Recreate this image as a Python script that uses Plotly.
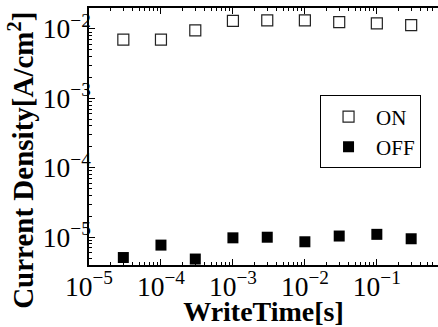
import plotly.graph_objects as go

write_time = [3e-5, 1e-4, 3e-4, 1e-3, 3e-3, 1e-2, 3e-2, 1e-1, 3e-1]
on_density = [7.0e-3, 7.0e-3, 9.5e-3, 1.30e-2, 1.32e-2, 1.32e-2, 1.25e-2, 1.2e-2, 1.13e-2]
off_density = [5.1e-6, 7.7e-6, 4.85e-6, 9.8e-6, 1.0e-5, 8.6e-6, 1.04e-5, 1.1e-5, 9.5e-6]

font_family = "Times New Roman"

fig = go.Figure()
fig.add_trace(go.Scatter(
    x=write_time, y=on_density, mode="markers", name="ON",
    marker=dict(symbol="square-open", size=11, color="#222222", line=dict(width=1.2, color="#222222")),
))
fig.add_trace(go.Scatter(
    x=write_time, y=off_density, mode="markers", name="OFF",
    marker=dict(symbol="square", size=11, color="black", line=dict(width=0)),
))

axis_common = dict(
    type="log", showgrid=False, zeroline=False,
    showline=True, linecolor="black", linewidth=1.5,
    ticks="inside", ticklen=6, tickwidth=1.2, tickcolor="black",
    dtick=1, exponentformat="power",
    minor=dict(ticks="inside", ticklen=3, tickwidth=1, tickcolor="black", showgrid=False),
    tickfont=dict(family=font_family, size=22, color="black"),
)

fig.update_xaxes(
    **axis_common, range=[-5, -0.15], mirror="ticks", ticklabelstandoff=-3,
    title=dict(text="<b>WriteTime[s]</b>", font=dict(family=font_family, size=28, color="black"), standoff=0),
)
fig.update_yaxes(
    **axis_common, range=[-5.4, -1.7], mirror=False, ticklabelstandoff=-8,
)

fig.add_annotation(
    text="<b>Current Density[A/cm<sup>2</sup>]</b>", textangle=-90,
    xref="paper", yref="paper", x=-0.195, y=0.409, xanchor="center", yanchor="middle",
    showarrow=False, font=dict(family=font_family, size=29, color="black"),
)

fig.update_layout(
    width=438, height=327,
    margin=dict(l=89, r=0, t=8, b=62),
    plot_bgcolor="white", paper_bgcolor="white",
    showlegend=True,
    legend=dict(
        x=0.662, y=0.66, xanchor="left", yanchor="top",
        bgcolor="white", bordercolor="black", borderwidth=1,
        font=dict(family=font_family, size=21, color="black"),
        itemwidth=45, tracegroupgap=0,
    ),
)

fig.write_html("out.html")
